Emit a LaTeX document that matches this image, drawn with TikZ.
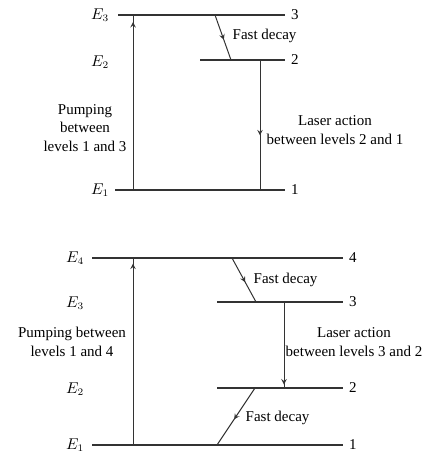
\documentclass[tikz,border=0pt]{standalone}
\usepackage{fontspec}
\setmainfont{Liberation Serif}
\usetikzlibrary{decorations.markings}

\tikzset{
  level/.style={line width=0.8pt,black!80},
  trans/.style={line width=0.7pt,black!80},
  midarrow/.style={postaction={decorate},
    decoration={markings,mark=at position #1 with {\arrow{stealth}}}},
  lbl/.style={font=\fontsize{10.5}{12.8}\selectfont,inner sep=1pt},
}

\begin{document}
\begin{tikzpicture}[x=0.7pt,y=-0.7pt]
\useasboundingbox (0,0) rectangle (425,453);

% ---- Three-level system ----
\coordinate (a3l) at (118,15);  \coordinate (a3r) at (285,15);
\coordinate (a2l) at (200,60);  \coordinate (a2r) at (285,60);
\coordinate (a1l) at (115,190); \coordinate (a1r) at (285,190);
\draw[level] (a3l) -- (a3r);
\draw[level] (a2l) -- (a2r);
\draw[level] (a1l) -- (a1r);

% energies and level numbers
\node[lbl] (aE3) at (100,15) {$E_3$};
\node[lbl] (aE2) at (100,62) {$E_2$};
\node[lbl] (aE1) at (100,190) {$E_1$};
\node[lbl,right=3pt] (an3) at (a3r) {3};
\node[lbl,right=3pt] (an2) at (a2r) {2};
\node[lbl,right=3pt] (an1) at (a1r) {1};

% pumping 1 -> 3
\coordinate (ap1) at (133,190); \coordinate (ap3) at (133,15);
\draw[trans,midarrow=0.96] (ap1) -- (ap3);
\node[lbl,align=center] (apump) at (85,128) {Pumping\\between\\levels 1 and 3};

% fast decay 3 -> 2
\coordinate (ad3) at (215,15); \coordinate (ad2) at (231,60);
\draw[trans,midarrow=0.55] (ad3) -- (ad2);
\node[lbl,anchor=west] (adecay) at (231,36) {Fast decay};

% laser 2 -> 1
\coordinate (al2) at (260,60); \coordinate (al1) at (260,190);
\draw[trans,midarrow=0.58] (al2) -- (al1);
\node[lbl,align=center] (alaser) at (335,130) {Laser action\\between levels 2 and 1};

% ---- Four-level system ----
\coordinate (b4l) at (92,258);  \coordinate (b4r) at (343,258);
\coordinate (b3l) at (217,302); \coordinate (b3r) at (343,302);
\coordinate (b2l) at (217,388); \coordinate (b2r) at (343,388);
\coordinate (b1l) at (92,445);  \coordinate (b1r) at (343,445);
\draw[level] (b4l) -- (b4r);
\draw[level] (b3l) -- (b3r);
\draw[level] (b2l) -- (b2r);
\draw[level] (b1l) -- (b1r);

% energies and level numbers
\node[lbl] (bE4) at (75,258) {$E_4$};
\node[lbl] (bE3) at (75,303) {$E_3$};
\node[lbl] (bE2) at (75,389) {$E_2$};
\node[lbl] (bE1) at (75,445) {$E_1$};
\node[lbl,right=3pt] (bn4) at (b4r) {4};
\node[lbl,right=3pt] (bn3) at (b3r) {3};
\node[lbl,right=3pt] (bn2) at (b2r) {2};
\node[lbl,right=3pt] (bn1) at (b1r) {1};

% pumping 1 -> 4
\coordinate (bp1) at (133,445); \coordinate (bp4) at (133,258);
\draw[trans,midarrow=0.97] (bp1) -- (bp4);
\node[lbl,align=center] (bpump) at (72,342) {Pumping between\\levels 1 and 4};

% fast decay 4 -> 3
\coordinate (bd4) at (232,258); \coordinate (bd3) at (256,302);
\draw[trans,midarrow=0.55] (bd4) -- (bd3);
\node[lbl,anchor=west] (bdecay) at (252,280) {Fast decay};

% laser 3 -> 2
\coordinate (bl3) at (284,302); \coordinate (bl2) at (284,388);
\draw[trans,midarrow=0.96] (bl3) -- (bl2);
\node[lbl,align=center] (blaser) at (354,342) {Laser action\\between levels 3 and 2};

% fast decay 2 -> 1
\coordinate (be2) at (255,388); \coordinate (be1) at (217,445);
\draw[trans,midarrow=0.55] (be2) -- (be1);
\node[lbl,anchor=west] (bdecay2) at (244,418) {Fast decay};

\end{tikzpicture}
\end{document}
